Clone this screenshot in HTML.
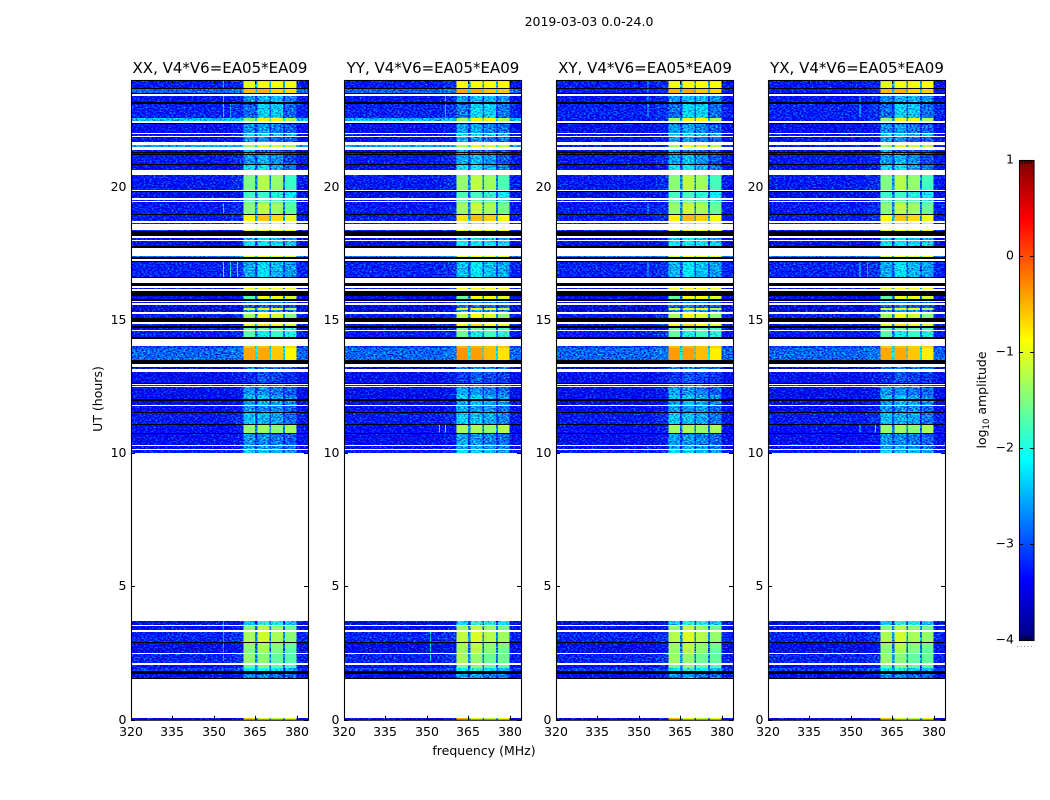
<!DOCTYPE html>
<html>
<head>
<meta charset="utf-8">
<title>2019-03-03 0.0-24.0</title>
<style>
html,body{margin:0;padding:0;background:#fff;width:1050px;height:800px;overflow:hidden}
svg{display:block}
text{font-family:"DejaVu Sans","Liberation Sans",sans-serif;fill:#000}
.tick{font-size:12.5px}
.ttl{font-size:15px}
.lbl{font-size:12.5px}
</style>
</head>
<body>
<svg id="chart" xmlns="http://www.w3.org/2000/svg" width="1050" height="800" viewBox="0 0 1050 800">
<defs>
<filter id="grain" x="0" y="0" width="1" height="1" color-interpolation-filters="sRGB">
<feTurbulence type="fractalNoise" baseFrequency="0.5 0.7" numOctaves="1" seed="7" result="n"/>
<feColorMatrix in="n" type="matrix" values="0 0 0 0 0.35  1.9 0 0 0 -0.6  1.1 0 0 0 -0.2  0 0 0 0 1" result="m"/>
<feComposite in="SourceGraphic" in2="m" operator="arithmetic" k1="0" k2="1" k3="1" k4="-0.35" result="c"/>
<feComposite in="c" in2="SourceGraphic" operator="in"/>
</filter>
</defs>
<text class="lbl" x="589" y="26" text-anchor="middle">2019-03-03 0.0-24.0</text>
<text class="lbl" x="484" y="755" text-anchor="middle">frequency (MHz)</text>
<text class="lbl" transform="translate(102,399) rotate(-90)" text-anchor="middle">UT (hours)</text>
<text class="lbl" transform="translate(986,400) rotate(-90)" text-anchor="middle">log<tspan font-size="8.5" dy="3">10</tspan><tspan dy="-3"> amplitude</tspan></text>
</svg>
<script>
// Constants for flagged (white) and zero-amplitude (black) rows
const W = null;
const K = -9;
// Rows: [start UT hour (top), background log10 amp, band A, band B, band C, band D]
const rowsLateNight = [
[24.00,-3.3,-0.9,-0.9,-0.9,-0.85],[23.69,K],[23.67,-2.9,-0.45,-0.45,-0.6,-0.6],[23.53,K],[23.49,W],
[23.40,-3.35,-2.6,-2.45,-2.45,-2.65],[23.17,K],[23.11,-3.25,-2.8,-2.3,-2.35,-2.8],[22.59,-2.5,-1.3,-0.9,-0.9,-1.2],
[22.46,W],[22.39,K],[22.34,-3.4,-2.6,-2.55,-2.75,-2.85],[22.00,W],[21.96,-3.4,-2.2,-2.2,-2.4,-2.4],[21.90,W],
[21.86,-3.45,-2.55,-2.65,-2.85,-2.85],[21.69,W],[21.56,-2.6,-1.3,-1.0,-1.1,-1.2],[21.49,W],[21.36,-3.5,-2.45,-2.85,-2.85,-2.95],
[21.29,K],[21.26,-3.5,-2.55,-2.75,-2.85,-2.95],[21.23,K],[21.20,-3.3,-2.55,-2.45,-2.65,-2.95],[20.85,K],
[20.81,-3.4,-2.2,-2.2,-2.5,-2.75],[20.62,W],[20.45,-3.3,-1.4,-1.2,-1.35,-1.75],[19.86,W],[19.83,K],
[19.80,-3.45,-1.75,-1.8,-1.9,-2.1],[19.56,W],[19.51,-3.3,-1.6,-1.6,-1.7,-1.9],[19.47,W],[19.42,-3.45,-1.5,-1.4,-1.5,-1.7],
[19.36,-3.3,-1.35,-1.15,-1.3,-1.55],[18.97,K],[18.95,-3.3,-0.75,-0.55,-0.65,-0.9],[18.71,W],[18.65,-3.35,-0.9,-0.7,-0.8,-0.9],
[18.60,W],[18.37,-3.2,-0.9,-0.8,-0.8,-0.9],[18.32,K],[18.14,W],[18.08,-3.5,-2.45,-2.2,-2.45,-2.55],
[18.01,W],[17.96,-3.4,-2.2,-2.2,-2.3,-2.4],[17.90,-3.5,-2.1,-2.1,-2.2,-2.2],[17.76,K],[17.69,W],
[17.39,-2.8,-1.0,-0.9,-1.0,-1.0],[17.35,K],[17.27,W],[17.22,K],[17.18,-3.25,-2.45,-2.2,-2.45,-2.55],[16.61,K],[16.58,W]
];
const rowsEvening = [
[16.38,K],[16.28,W],[16.20,-3.4,-0.9,-0.8,-0.9,-0.9],[16.15,W],[16.10,K],
[15.90,-3.5,-1.6,-0.9,-0.9,-1.0],[15.78,K],[15.72,W],[15.67,-3.4,-2.75,-2.65,-2.75,-2.85],[15.62,W],
[15.55,-3.6,-2.85,-2.85,-2.95,-2.95],[15.45,-3.6,-1.0,-0.8,-0.9,-1.2],[15.38,-3.7,-2.65,-2.55,-2.65,-2.75],[15.31,W],[15.22,-3.3,-1.25,-0.9,-1.05,-1.4],
[15.08,K],[14.91,W],[14.86,-3.3,-0.9,-0.7,-0.9,-1.0],[14.77,K],[14.69,-3.5,-1.6,-1.6,-1.7,-1.8],
[14.63,W],[14.58,-3.3,-1.6,-2.0,-1.8,-1.9],[14.36,K],[14.28,W],[14.02,-3.1,-0.5,-0.5,-0.6,-0.6],
[13.93,-2.9,-0.35,-0.4,-0.55,-0.75],[13.51,K],[13.36,W],[13.23,-3.7,-2.75,-2.75,-2.85,-2.85],[13.16,W]
];
const rowsAfternoon = [
[13.06,-3.4,-3.1,-2.95,-3.05,-3.1],[12.64,K],[12.61,W],[12.56,-3.3,-2.85,-2.75,-2.85,-2.95],[12.52,W],
[12.49,-3.4,-2.55,-2.65,-2.75,-2.85],[12.19,K],[12.17,-3.4,-2.35,-2.35,-2.55,-2.65],[12.02,K],[11.96,-3.6,-2.55,-2.45,-2.55,-2.65],
[11.81,W],[11.77,-3.4,-2.55,-2.65,-2.65,-2.85],[11.55,K],[11.49,-3.3,-2.35,-2.45,-2.55,-2.75],[11.10,K],
[11.06,-3.4,-1.3,-1.3,-1.4,-1.25],[10.77,K],[10.73,-3.4,-2.55,-2.65,-2.75,-2.85],[10.31,W],[10.27,-3.5,-2.55,-2.55,-2.65,-2.75],
[10.17,W],[10.13,-3.3,-2.2,-2.35,-2.45,-2.55],[10.00,W]
];
const rowsMorning = [
[3.70,-3.5,-2.3,-1.9,-2.0,-2.3],[3.55,W],[3.52,-3.4,-1.4,-1.2,-1.4,-1.55],[3.35,W],[3.29,-3.25,-1.2,-1.05,-1.25,-1.35],
[2.93,K],[2.88,-3.5,-1.3,-1.2,-1.4,-1.5],[2.70,K],[2.68,-3.5,-1.35,-1.25,-1.45,-1.6],[2.52,W],
[2.47,-3.25,-1.3,-1.4,-1.6,-1.6],[2.14,K],[2.11,W],[2.06,-3.4,-1.5,-1.4,-1.6,-1.7],[1.95,K],
[1.93,-3.1,-2.1,-1.9,-2.2,-2.4],[1.82,K],[1.70,-3.4,-2.6,-2.6,-2.8,-2.8],[1.55,K],[1.53,W],
[0.075,-3.4,-0.5,-1.0,-1.2,-0.9],[0]
];
// Categories and small per-panel adjustments
const polarizations = ['XX','YY','XY','YX'];
const baselineLabel = 'V4*V6=EA05*EA09';
const polBandShift = [[-0.1,-0.05,-0.05,-0.1],[0,0,0,0],[-0.05,0,0,-0.05],[-0.1,-0.05,-0.05,-0.05]];
const crossHandRows = [23.67,22.59,21.56];
const crossHandBackground = -3.3;
// Narrow interference lines: [panel, MHz, UT from, UT to, log10 amp]
const rfiLines = [
[0,353.4,24,23.7,-2.5],[0,353.4,23.4,22.6,-2.4],[0,353.4,19.36,19,-2.3],[0,353.4,17.18,16.61,-2],[0,353.4,3.7,2.2,-2.6],
[0,356,23.11,22.6,-2.6],[0,356,17.18,16.61,-2.2],[0,358.5,17.18,16.61,-2.1],
[1,356.7,23.4,22.6,-2.5],[1,356.7,11.06,10.77,-2],[1,354.5,11.06,10.77,-2],[1,351.3,3.3,2.2,-2.4],
[2,353.3,24,23.5,-2.3],[2,353.3,23.4,22.6,-2.4],[2,353.3,19.36,18.97,-2.4],[2,353.3,17.18,16.61,-2.3],[2,353.3,10.31,10,-2.5],
[3,353.3,23.4,22.6,-2.2],[3,353.3,17.18,16.61,-2.1],[3,353.3,11.06,10.77,-2.2],[3,353.3,10.31,10,-2.4],[3,356,17.18,16.61,-2.6],[3,358.8,11.06,10.77,-2.1]
];
// Axis tick labels
const freqTicks = [320,335,350,365,380];
const utTicks = [0,5,10,15,20];
const colorbarTicks = [1,0,-1,-2,-3,-4];
const colorbarMinorTicks = [0.2,0.4,0.6,0.8];
// Frequency columns (MHz): background, shoulder, band A, gap, band B, gap, band C, gap, band D, background
const freqEdges = [320,356,360.6,364.9,365.8,370,370.7,375,375.6,379.9,384];

const svg = document.getElementById('chart');
const NS = 'http://www.w3.org/2000/svg';
const rows = rowsLateNight.concat(rowsEvening, rowsAfternoon, rowsMorning);
const panelLeft = [131,344,556,768];
const panelWidth = 177;
const plotTop = 80, plotBottom = 719.7;
const xAxis = (p, f) => panelLeft[p] + (f - 320) / 64 * panelWidth;
const yAxis = ut => plotBottom - ut / 24 * (plotBottom - plotTop);
const cbTop = 160, cbBottom = 640, cbLeft = 1019, cbRight = 1034;
const cbAxis = v => cbTop + (1 - v) / 5 * (cbBottom - cbTop);

function clamp(v){return Math.max(0, Math.min(1, v));}
function jet(level){
  if (level < -5) return '#000';
  const t = clamp((level + 4) / 5);
  const r = clamp(1.5 - Math.abs(4*t - 3));
  const g = clamp(1.5 - Math.abs(4*t - 2));
  const b = clamp(1.5 - Math.abs(4*t - 1));
  return 'rgb(' + Math.round(r*255) + ',' + Math.round(g*255) + ',' + Math.round(b*255) + ')';
}
function mk(tag, attrs, parent){
  const e = document.createElementNS(NS, tag);
  for (const k in attrs) e.setAttribute(k, attrs[k]);
  parent.appendChild(e);
  return e;
}
function cell(parent, x0, x1, y0, y1, level){
  const r = mk('rect', {x:x0, y:y0, width:x1-x0, height:y1-y0, fill:jet(level), 'shape-rendering':'crispEdges'}, parent);
  
  
  return r;
}
function columnLevel(c, bg, bands, shift){
  if (c === 0 || c === 9) return bg;
  if (c === 1) return bg + 0.1;
  if (c === 2 || c === 4 || c === 6 || c === 8){
    const i = (c - 2) / 2;
    return bands[i] + shift[i];
  }
  const i = (c - 3) / 2;
  return bg + 0.3 * (Math.min(bands[i], bands[i+1]) - bg);
}

polarizations.forEach((pol, p) => {
  const panel = mk('g', {}, svg);
  
  
  const heat = mk('g', {filter:'url(#grain)'}, panel);
  
  
  const smooth = mk('g', {}, panel);
  
  
  const dark = mk('g', {}, panel);
  
  
  for (let i = 0; i < rows.length - 1; i++){
    const row = rows[i];
    const bgRaw = row[1];
    if (bgRaw === null) continue;
    const y0 = Math.round(yAxis(row[0]));
    const y1 = Math.round(yAxis(rows[i+1][0]));
    if (y1 <= y0) continue;
    if (bgRaw === K){
      cell(dark, xAxis(p,320), xAxis(p,384), y0, y1, K);
      continue;
    }
    const bg = (p >= 2 && crossHandRows.indexOf(row[0]) >= 0) ? crossHandBackground : bgRaw;
    const bands = row.slice(2);
    for (let c = 0; c < freqEdges.length - 1; c++){
      const level = columnLevel(c, bg, bands, polBandShift[p]);
      cell(level > -1.9 ? smooth : heat, xAxis(p,freqEdges[c]), xAxis(p,freqEdges[c+1]), y0, y1, level);
    }
    rfiLines.forEach(line => {
      if (line[0] !== p) return;
      const top = Math.min(row[0], line[2]);
      const bottom = Math.max(rows[i+1][0], line[3]);
      if (top <= bottom) return;
      const cx = xAxis(p, line[1]);
      cell(heat, cx - 0.5, cx + 0.5, yAxis(top), yAxis(bottom), line[4]);
    });
  }
  // frame
  const left = panelLeft[p], right = left + panelWidth;
  const frame = mk('rect', {x:left+0.5, y:plotTop+0.5, width:panelWidth, height:plotBottom-plotTop, fill:'none', stroke:'#000', 'stroke-width':1.1}, panel);
  
  
  // x ticks
  freqTicks.forEach(f => {
    const x = Math.round(xAxis(p, f)) + 0.5;
    const t1 = mk('line', {x1:x, x2:x, y1:plotBottom, y2:plotBottom-4, stroke:'#000'}, panel);
    
    
    const t2 = mk('line', {x1:x, x2:x, y1:plotTop, y2:plotTop+4, stroke:'#000'}, panel);
    
    
    const lab = mk('text', {x:x-0.5, y:736, 'text-anchor':'middle', class:'tick'}, panel);
    lab.textContent = f;
    
    
  });
  // y ticks
  utTicks.forEach(u => {
    const y = Math.round(yAxis(u)) + 0.5;
    const t1 = mk('line', {x1:left, x2:left+4, y1:y, y2:y, stroke:'#000'}, panel);
    
    
    const t2 = mk('line', {x1:right, x2:right-4, y1:y, y2:y, stroke:'#000'}, panel);
    
    
    const lab = mk('text', {x:left-4.5, y:y+3.5, 'text-anchor':'end', class:'tick'}, panel);
    lab.textContent = u;
    
    
  });
  const title = mk('text', {x:left + panelWidth/2 + 0.5, y:73, 'text-anchor':'middle', class:'ttl'}, panel);
  title.textContent = pol + ', ' + baselineLabel;
  
  
});

// Colorbar
const cb = mk('g', {}, svg);


for (let py = cbTop; py < cbBottom; py += 2){
  const seg = mk('rect', {x:cbLeft, y:py, width:cbRight-cbLeft, height:2.5, fill:jet(1 - (py + 1 - cbTop) / (cbBottom - cbTop) * 5), 'shape-rendering':'crispEdges'}, cb);
  
  
}
const cbFrame = mk('rect', {x:cbLeft+0.5, y:cbTop+0.5, width:cbRight-cbLeft-0.5, height:cbBottom-cbTop, fill:'none', stroke:'#000', 'stroke-width':1.1}, cb);


colorbarTicks.forEach(v => {
  const y = Math.round(cbAxis(v)) + 0.5;
  const t1 = mk('line', {x1:cbLeft, x2:cbLeft+4, y1:y, y2:y, stroke:'#000'}, cb);
  
  
  const t2 = mk('line', {x1:cbRight, x2:cbRight-4, y1:y, y2:y, stroke:'#000'}, cb);
  
  
  const lab = mk('text', {x:1014, y:y+3, 'text-anchor':'end', class:'tick', 'font-size':'12'}, cb);
  lab.textContent = v < 0 ? '\u2212' + (-v) : String(v);
  
  
});
colorbarMinorTicks.forEach(m => {
  const x = cbLeft + m * (cbRight - cbLeft);
  const t1 = mk('line', {x1:x, x2:x, y1:cbTop, y2:cbTop+4, stroke:'#000'}, cb);
  
  
  const t2 = mk('line', {x1:x, x2:x, y1:cbBottom, y2:cbBottom-4, stroke:'#000'}, cb);
  
  
});
const dots = mk('line', {x1:1017, x2:1035, y1:646.5, y2:646.5, stroke:'#999', 'stroke-width':1, 'stroke-dasharray':'1 2.5'}, cb);


</script>
</body>
</html>
